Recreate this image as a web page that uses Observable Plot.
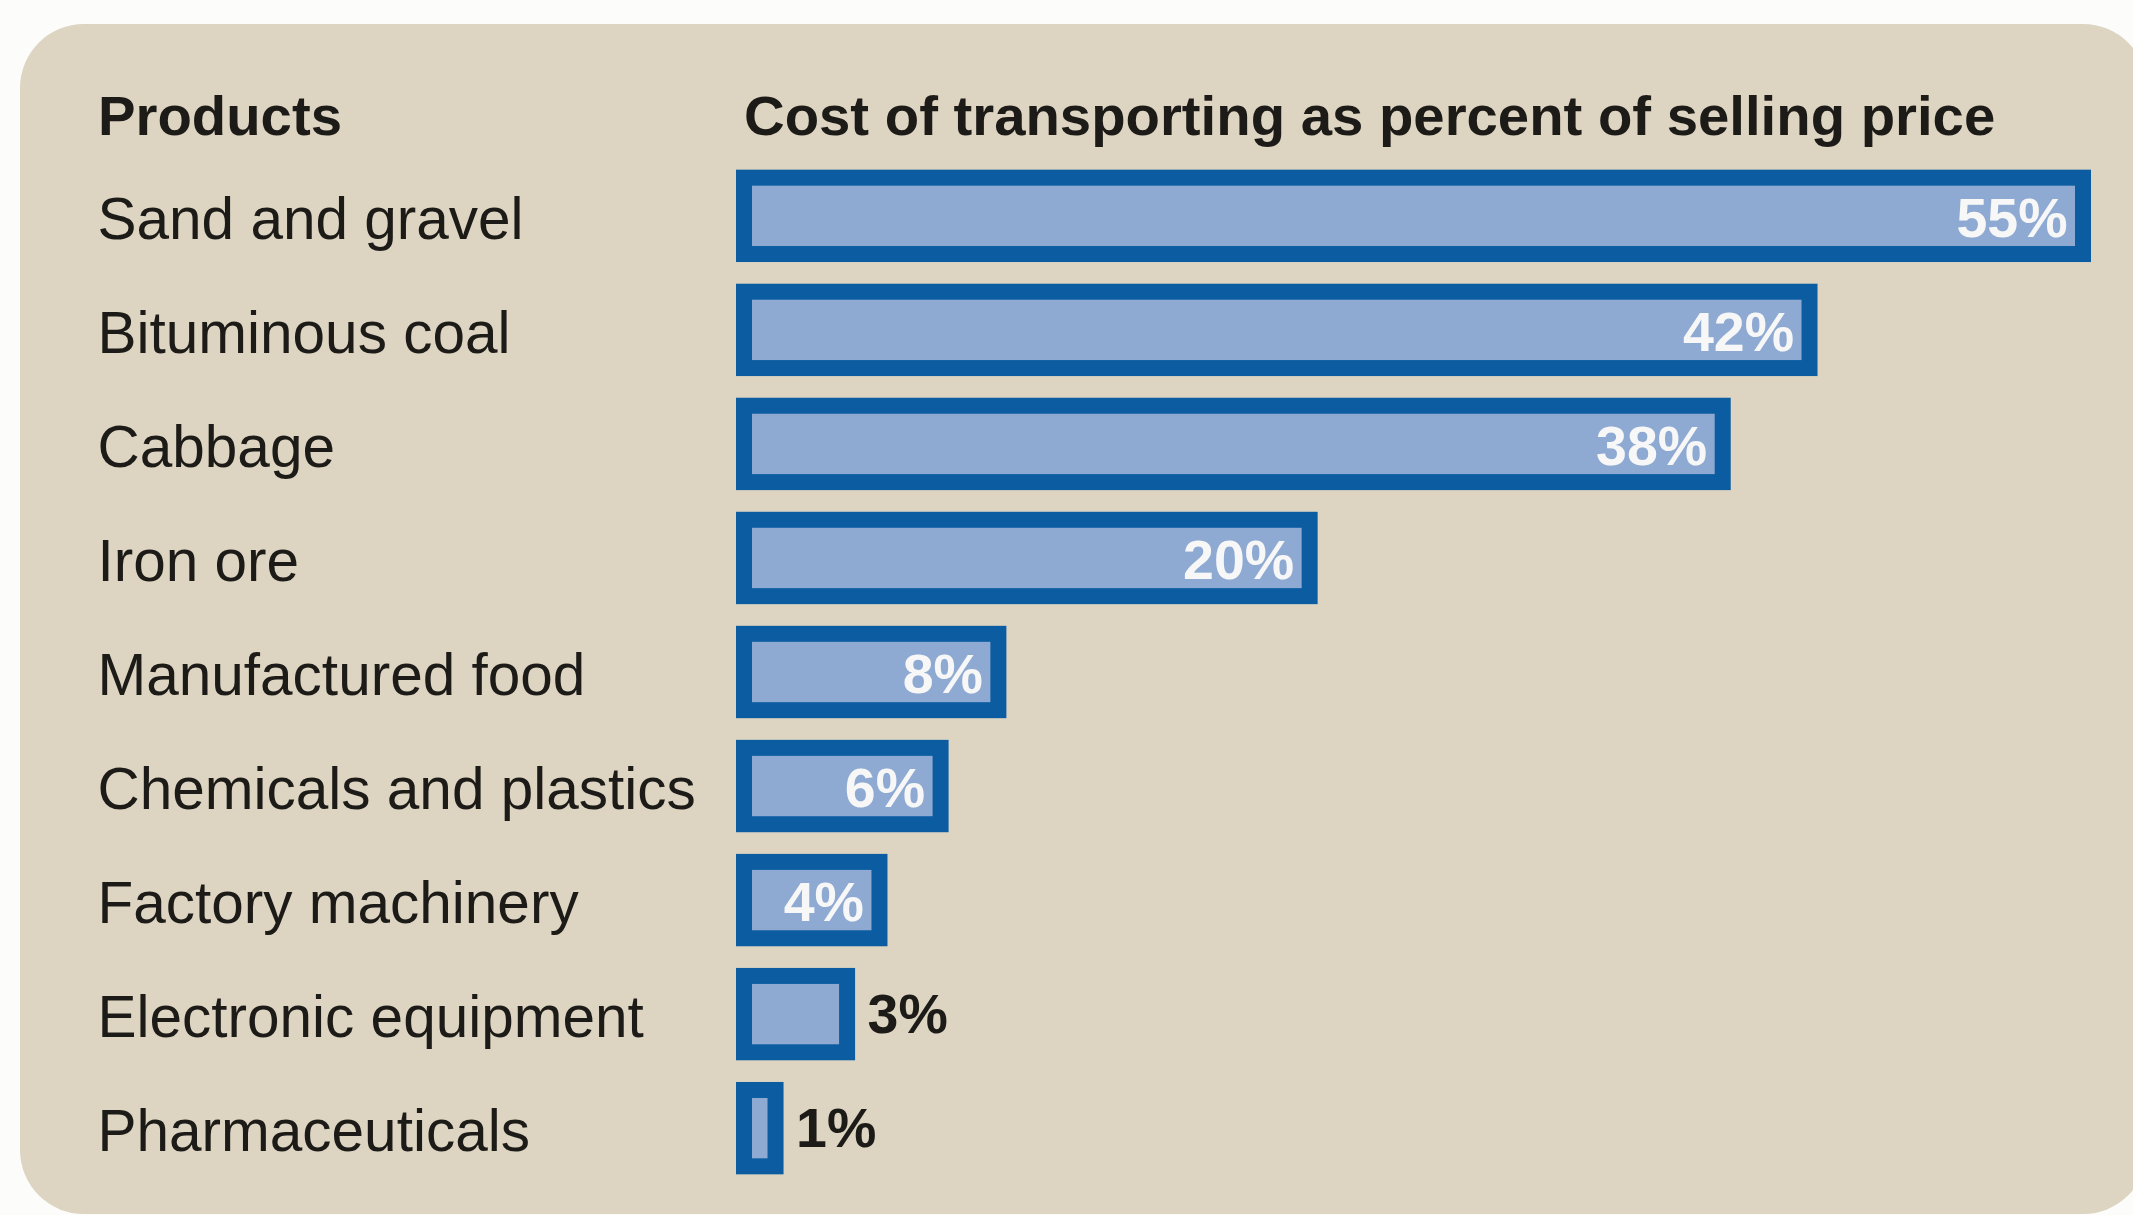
<!DOCTYPE html>
<html>
<head>
<meta charset="utf-8">
<script src="https://cdn.jsdelivr.net/npm/d3@7"></script>
<script src="https://cdn.jsdelivr.net/npm/@observablehq/plot@0.6"></script>
<style>
  html, body { margin: 0; padding: 0; background: #fcfcfa; }
  body { width: 2133px; height: 1215px; position: relative; overflow: hidden;
         font-family: "Liberation Sans", Arial, Helvetica, sans-serif; }
  #panel { position: absolute; left: 20px; top: 24px; width: 2127px; height: 1190px;
           border-radius: 64px; background: #ddd5c2; }
  #header { position: relative; height: 140px; }
  .hd { position: absolute; top: 88px; font-size: 56.3px; line-height: 56px; font-weight: bold;
        color: #1d1b18; white-space: nowrap; }
  #chart { position: relative; }
</style>
</head>
<body>
<div id="panel"></div>
<div id="header">
  <div class="hd" style="left:98px">Products</div>
  <div class="hd" style="left:744px">Cost of transporting as percent of selling price</div>
</div>
<div id="chart"></div>
<script>
const products = [
  "Sand and gravel",
  "Bituminous coal",
  "Cabbage",
  "Iron ore",
  "Manufactured food",
  "Chemicals and plastics",
  "Factory machinery",
  "Electronic equipment",
  "Pharmaceuticals"
];
const percents = [55, 42, 38, 20, 8, 6, 4, 3, 1];

const data = products.map((p, i) => ({product: p, value: percents[i]}));
const inside = data.filter(d => d.value >= 4);
const outside = data.filter(d => d.value < 4);

const font = '"Liberation Sans", Arial, Helvetica, sans-serif';

const chart = Plot.plot({
  width: 2133,
  height: 1075,
  marginLeft: 736,
  marginRight: 42,
  marginTop: 8,
  marginBottom: 19,
  style: {background: "transparent", fontFamily: font, overflow: "visible"},
  x: {type: "pow", exponent: 0.836, domain: [0, 55], axis: null},
  y: {domain: products, padding: 0.19, round: false, axis: null},
  marks: [
    Plot.barX(data, {x: "value", y: "product", fill: "#0b5ca0"}),
    Plot.barX(data, {x: "value", y: "product", fill: "#8eaad2",
      insetLeft: 16, insetRight: 16, insetTop: 16, insetBottom: 16}),
    Plot.text(inside, {x: "value", y: "product", text: d => d.value + "%",
      textAnchor: "end", dx: -24, dy: 3, fill: "#f7f7f7", fontSize: 55.5, fontWeight: "bold"}),
    Plot.text(outside, {x: "value", y: "product", text: d => d.value + "%",
      textAnchor: "start", dx: 12, dy: 1, fill: "#1d1b18", fontSize: 55.5, fontWeight: "bold"}),
    Plot.text(data, {y: "product", text: "product", frameAnchor: "left",
      textAnchor: "start", dx: -639, dy: 4, fill: "#1d1b18", fontSize: 58.5})
  ]
});
document.getElementById("chart").appendChild(chart);
</script>
</body>
</html>
